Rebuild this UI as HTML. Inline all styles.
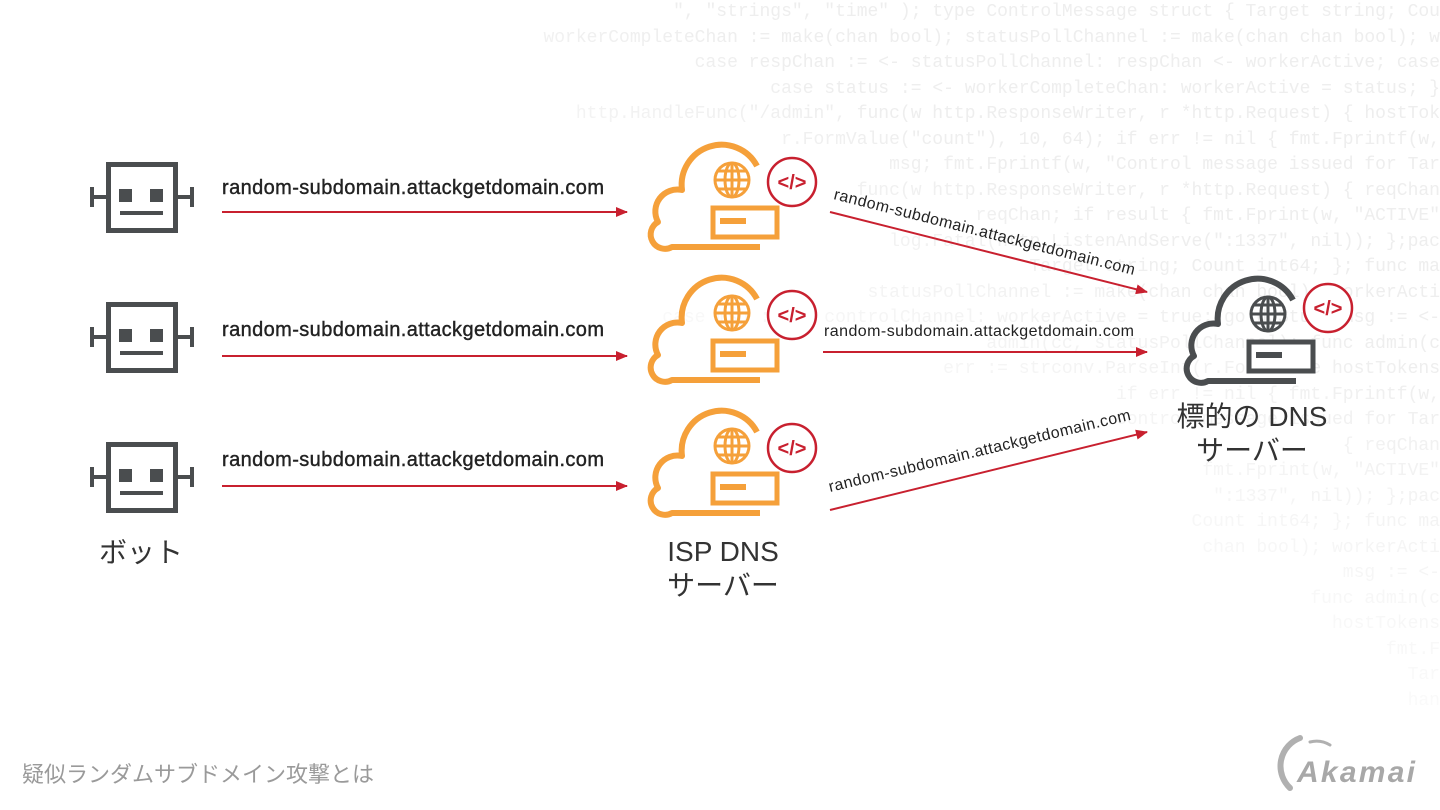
<!DOCTYPE html>
<html><head><meta charset="utf-8"><style>
html,body{margin:0;padding:0;background:#fff;}
body{width:1440px;height:810px;overflow:hidden;position:relative;font-family:"Liberation Sans","Noto Sans CJK JP",sans-serif;}
.bg{position:absolute;left:0;top:0;width:1440px;height:810px;font-family:"Liberation Mono",monospace;font-size:18px;line-height:25.5px;color:#eeeeee;white-space:pre;text-align:right;
-webkit-mask-image:linear-gradient(205deg,#000 25%,transparent 58%);mask-image:linear-gradient(205deg,#000 25%,transparent 58%);}
svg{position:absolute;left:0;top:0;}
</style></head><body>
<div class="bg">", "strings", "time" ); type ControlMessage struct { Target string; Cou
 workerCompleteChan := make(chan bool); statusPollChannel := make(chan chan bool); w
 case respChan := &lt;- statusPollChannel: respChan &lt;- workerActive; case
 case status := &lt;- workerCompleteChan: workerActive = status; }
 http.HandleFunc("/admin", func(w http.ResponseWriter, r *http.Request) { hostTok
 r.FormValue("count"), 10, 64); if err != nil { fmt.Fprintf(w,
 msg; fmt.Fprintf(w, "Control message issued for Tar
 func(w http.ResponseWriter, r *http.Request) { reqChan
 reqChan; if result { fmt.Fprint(w, "ACTIVE"
 log.Fatal(http.ListenAndServe(":1337", nil)); };pac
 Target string; Count int64; }; func ma
 statusPollChannel := make(chan chan bool); workerActi
 case msg := &lt;- controlChannel: workerActive = true; go doStuff(msg := &lt;-
 admin(cc, statusPollChannel); func admin(c
 err := strconv.ParseInt(r.FormValue hostTokens
 if err != nil { fmt.Fprintf(w,
 Control message issued for Tar
 { reqChan
 fmt.Fprint(w, "ACTIVE"
 ":1337", nil)); };pac
 Count int64; }; func ma
 chan bool); workerActi
 msg := &lt;-
 func admin(c
 hostTokens
 fmt.F
 Tar
 han
 </div>
<svg width="1440" height="810" viewBox="0 0 1440 810">
<defs>
<marker id="ah" markerWidth="12" markerHeight="10" refX="11" refY="5" orient="auto" markerUnits="userSpaceOnUse" viewBox="0 0 12 10"><path d="M0,0 L12,5 L0,10 z" fill="#c8202f"/></marker>
<g id="robot" fill="none" stroke="#4a4d4f">
<rect x="108.5" y="164.5" width="67" height="66" stroke-width="5"/>
<line x1="93" y1="197" x2="106" y2="197" stroke-width="4"/>
<line x1="92" y1="187" x2="92" y2="207" stroke-width="4"/>
<line x1="178" y1="197" x2="191" y2="197" stroke-width="4"/>
<line x1="192" y1="187" x2="192" y2="207" stroke-width="4"/>
<rect x="119" y="189" width="13" height="13" fill="#4a4d4f" stroke="none"/>
<rect x="150" y="189" width="13" height="13" fill="#4a4d4f" stroke="none"/>
<rect x="120" y="211" width="43" height="4" fill="#4a4d4f" stroke="none"/>
</g>
<g id="globe" fill="none" stroke-width="3">
<circle cx="732" cy="180" r="17"/>
<ellipse cx="732" cy="180" rx="7" ry="17"/>
<line x1="732" y1="163" x2="732" y2="197"/>
<line x1="715" y1="180" x2="749" y2="180"/>
<line x1="718" y1="171" x2="746" y2="171"/>
<line x1="718" y1="189" x2="746" y2="189"/>
</g>
<g id="code">
<circle cx="792" cy="182" r="24" fill="#fff" stroke="#c8202f" stroke-width="2.5"/>
<text x="792" y="189" font-size="20" font-family="Liberation Sans,sans-serif" fill="#c8202f" text-anchor="middle" font-weight="bold">&lt;/&gt;</text>
</g>
<path id="cpath" d="M757 166 A40 40 0 0 0 682 190 A22 22 0 0 0 658 222 A14 14 0 0 0 672 247 L760 247"/>
</defs>

<use href="#robot"/>
<use href="#robot" y="140"/>
<use href="#robot" y="280"/>

<g id="cloudO">
<use href="#cpath" fill="none" stroke="#f5a03a" stroke-width="6" stroke-linejoin="round"/>
<use href="#globe" stroke="#f5a03a"/>
<rect x="713" y="208" width="64" height="29" fill="#fff" stroke="#f5a03a" stroke-width="5"/>
<rect x="720" y="218" width="26" height="6" fill="#f5a03a"/>
<use href="#code"/>
</g>
<use href="#cloudO" y="133"/>
<use href="#cloudO" y="266"/>
<g transform="translate(536,134)">
<use href="#cpath" fill="none" stroke="#4a4d4f" stroke-width="6" stroke-linejoin="round"/>
<use href="#globe" stroke="#4a4d4f"/>
<rect x="713" y="208" width="64" height="29" fill="#fff" stroke="#4a4d4f" stroke-width="5"/>
<rect x="720" y="218" width="26" height="6" fill="#4a4d4f"/>
<use href="#code" transform="translate(0,-8)"/>
</g>

<g stroke="#c8202f" stroke-width="2" marker-end="url(#ah)">
<line x1="222" y1="212" x2="627" y2="212"/>
<line x1="222" y1="356" x2="627" y2="356"/>
<line x1="222" y1="486" x2="627" y2="486"/>
<line x1="830" y1="212" x2="1147" y2="292"/>
<line x1="823" y1="352" x2="1147" y2="352"/>
<line x1="830" y1="510" x2="1147" y2="432"/>
</g>
<g font-family="Liberation Sans,sans-serif" fill="#222">
<g font-size="20" fill="#222" stroke="#222" stroke-width="0.4">
<text x="222" y="194" textLength="382">random-subdomain.attackgetdomain.com</text>
<text x="222" y="336" textLength="382">random-subdomain.attackgetdomain.com</text>
<text x="222" y="466" textLength="382">random-subdomain.attackgetdomain.com</text>
</g>
<text x="824" y="336" font-size="16" textLength="310">random-subdomain.attackgetdomain.com</text>
<text font-size="16" textLength="310" transform="translate(833,199) rotate(14.2)">random-subdomain.attackgetdomain.com</text>
<text font-size="16" textLength="310" transform="translate(830,492) rotate(-13.5)">random-subdomain.attackgetdomain.com</text>
</g>
<g font-family="Liberation Sans,Noto Sans CJK JP,sans-serif" fill="#333" font-size="28" text-anchor="middle">
<text x="141" y="562">ボット</text>
<text x="723" y="561">ISP DNS</text>
<text x="723" y="595">サーバー</text>
<text x="1252" y="426">標的の DNS</text>
<text x="1252" y="460">サーバー</text>
</g>
<text x="22" y="782" font-family="Liberation Sans,Noto Sans CJK JP,sans-serif" font-size="22" fill="#9a9a9a">疑似ランダムサブドメイン攻撃とは</text>
<g fill="none" stroke="#b0b0b0" stroke-linecap="round">
<path d="M1300 738 A30 30 0 0 0 1290 788" stroke-width="6"/>
<path d="M1310 742 A26 26 0 0 1 1330 745" stroke-width="3"/>
</g>
<text x="1297" y="782" font-family="Liberation Sans,sans-serif" font-size="30" font-weight="bold" font-style="italic" fill="#a8a8a8" textLength="118">Akamai</text>
</svg>
</body></html>
